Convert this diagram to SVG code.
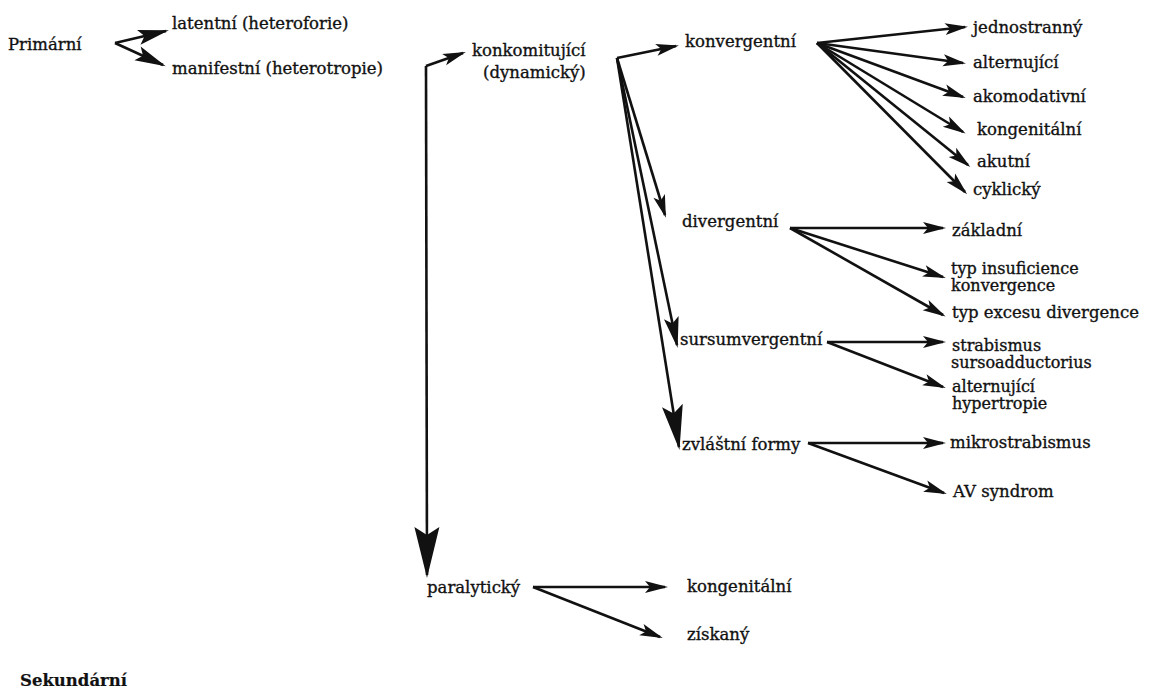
<svg xmlns="http://www.w3.org/2000/svg" width="1176" height="691" viewBox="0 0 1176 691">
<style>
text{font-family:"DejaVu Serif","Liberation Serif",serif;font-size:16.5px;fill:#111;stroke:#111;stroke-width:0.35}
.t{font-size:16px}
.b{font-weight:bold;stroke-width:0.2}
.c path{fill:none;stroke:#111;stroke-width:2.6;marker-end:url(#a)}
.c path.m{marker-end:url(#am)}
.c path.l{marker-end:url(#al)}
.c path.g{marker-end:url(#ab)}
marker path{fill:#111;stroke:none}
</style>
<defs>
<marker id="a" viewBox="-22 -7 26 14" markerWidth="26" markerHeight="14" refX="0" refY="0" orient="auto" markerUnits="userSpaceOnUse" overflow="visible"><path d="M3,0 L-20,-6 L-15,0 L-20,6 Z"/></marker>
<marker id="am" viewBox="-30 -9 34 18" markerWidth="34" markerHeight="18" refX="0" refY="0" orient="auto" markerUnits="userSpaceOnUse" overflow="visible"><path d="M3,0 L-28,-7.5 L-22,0 L-28,7.5 Z"/></marker>
<marker id="al" viewBox="-44 -12 48 24" markerWidth="48" markerHeight="24" refX="0" refY="0" orient="auto" markerUnits="userSpaceOnUse" overflow="visible"><path d="M3,0 L-42,-10.5 L-34,0 L-42,10.5 Z"/></marker>
<marker id="ab" viewBox="-50 -14 54 28" markerWidth="54" markerHeight="28" refX="0" refY="0" orient="auto" markerUnits="userSpaceOnUse" overflow="visible"><path d="M3,0 L-48,-12.5 L-40,0 L-48,12.5 Z"/></marker>
</defs>
<rect width="1176" height="691" fill="#fff"/>
<g id="connectors" class="c">
<path class="m" d="M115,43 L166,31"/>
<path class="m" d="M115,43 L163,65"/>
<path d="M426,66 L463,53"/>
<path class="g" d="M426,66 L427,575"/>
<path d="M617,58 L676,46"/>
<path d="M617,58 L665,215"/>
<path class="m" d="M617,58 L677,345"/>
<path class="l" d="M617,58 L679,447"/>
<path d="M817,43 L965,27"/>
<path d="M817,43 L963,63"/>
<path d="M817,43 L963,97"/>
<path d="M817,43 L963,132"/>
<path d="M817,43 L968,165"/>
<path d="M817,43 L965,192"/>
<path d="M790,228 L943,228"/>
<path d="M790,228 L943,277"/>
<path d="M790,228 L943,315"/>
<path d="M827,342 L943,342"/>
<path d="M827,342 L943,387"/>
<path d="M808,443 L943,443"/>
<path d="M808,443 L944,493"/>
<path d="M533,587 L665,587"/>
<path d="M533,587 L660,637"/>
</g>
<g id="n-primarni"><text x="8" y="50">Primární</text></g>
<g id="n-latentni"><text x="172" y="29">latentní (heteroforie)</text></g>
<g id="n-manifestni"><text x="172" y="74">manifestní (heterotropie)</text></g>
<g id="n-konkomitujici"><text x="472" y="56">konkomitující</text><text x="483" y="78">(dynamický)</text></g>
<g id="n-konvergentni"><text x="685" y="47">konvergentní</text></g>
<g id="n-jednostranny"><text x="973" y="33">jednostranný</text></g>
<g id="n-alternujici1"><text x="973" y="68">alternující</text></g>
<g id="n-akomodativni"><text x="973" y="102">akomodativní</text></g>
<g id="n-kongenitalni1"><text x="977" y="135">kongenitální</text></g>
<g id="n-akutni"><text x="977" y="167">akutní</text></g>
<g id="n-cyklicky"><text x="973" y="195">cyklický</text></g>
<g id="n-divergentni"><text x="682" y="227">divergentní</text></g>
<g id="n-zakladni"><text x="952" y="236">základní</text></g>
<g id="n-insuficience"><text class="t" x="951" y="274">typ insuficience</text><text class="t" x="951" y="291">konvergence</text></g>
<g id="n-excesu"><text x="952" y="318">typ excesu divergence</text></g>
<g id="n-sursumvergentni"><text x="680" y="345">sursumvergentní</text></g>
<g id="n-strabismus"><text class="t" x="952" y="351">strabismus</text><text class="t" x="951" y="368">sursoadductorius</text></g>
<g id="n-hypertropie"><text class="t" x="952" y="392">alternující</text><text class="t" x="952" y="409">hypertropie</text></g>
<g id="n-zvlastni"><text x="682" y="450">zvláštní formy</text></g>
<g id="n-mikrostrabismus"><text x="950" y="448">mikrostrabismus</text></g>
<g id="n-av"><text x="953" y="497">AV syndrom</text></g>
<g id="n-paralyticky"><text x="427" y="593">paralytický</text></g>
<g id="n-kongenitalni2"><text x="687" y="592">kongenitální</text></g>
<g id="n-ziskany"><text x="687" y="640">získaný</text></g>
<g id="n-sekundarni"><text class="b" x="20" y="686">Sekundární</text></g>
</svg>
